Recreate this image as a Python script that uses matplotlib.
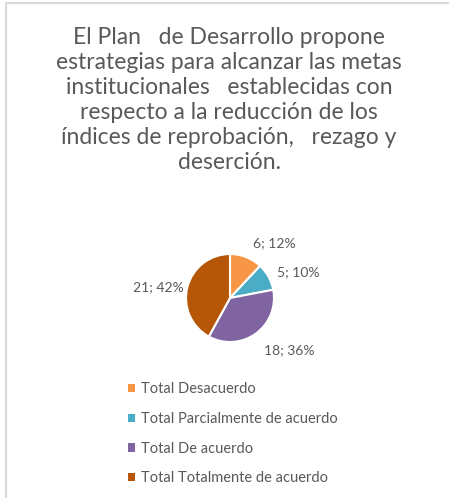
import matplotlib
matplotlib.use("Agg")
import matplotlib.pyplot as plt
from matplotlib.patches import Patch

plt.rcParams['font.family'] = ['Lato', 'DejaVu Sans']

title = ("El Plan   de Desarrollo propone\n"
         "estrategias para alcanzar las metas\n"
         "institucionales   establecidas con\n"
         "respecto a la reducción de los\n"
         "índices de reprobación,   rezago y\n"
         "deserción.")
categories = ["Total Desacuerdo", "Total Parcialmente de acuerdo",
              "Total De acuerdo", "Total Totalmente de acuerdo"]
values = [6, 5, 18, 21]
percents = [12, 10, 36, 42]
colors = ["#F79646", "#4BACC6", "#8064A2", "#B65708"]

W, H = 449, 498
fig = plt.figure(figsize=(W / 100, H / 100), dpi=100)
ax = fig.add_axes([0, 0, 1, 1])
ax.set_xlim(0, W)
ax.set_ylim(0, H)
ax.axis('off')

# frame lines (left and top)
ax.plot([5.5, 5.5], [0, H - 2.5], color="#D9D9D9", lw=1.5)
ax.plot([5.5, W], [H - 2.5, H - 2.5], color="#D9D9D9", lw=1.5)

wedges, _ = ax.pie(values, colors=colors, startangle=90, counterclock=False,
                   center=(230, H - 298), radius=44,
                   wedgeprops=dict(edgecolor="white", linewidth=1.5))
ax.set_aspect('equal')
ax.set_xlim(0, W)
ax.set_ylim(0, H)

label_pos = [(274, 243), (298, 272), (289, 350), (158, 287)]
for (px, py), v, p in zip(label_pos, values, percents):
    ax.text(px, H - py, f"{v}; {p}%", ha='center', va='center',
            fontsize=10, color="#595959")

fig.text(229 / W, 1 - 27 / H, title, ha='center', va='top', fontsize=16.5,
         color="#595959", linespacing=1.24)

handles = [Patch(facecolor=c, edgecolor='none') for c in colors]
leg = fig.legend(handles, categories, loc='upper left',
                 bbox_to_anchor=(115 / W, 1 - 369 / H), frameon=False,
                 fontsize=10.5, labelcolor="#595959", handlelength=0.5,
                 handleheight=0.5, handletextpad=0.35, labelspacing=1.08)

fig.savefig("out.png", dpi=100, facecolor="white")
